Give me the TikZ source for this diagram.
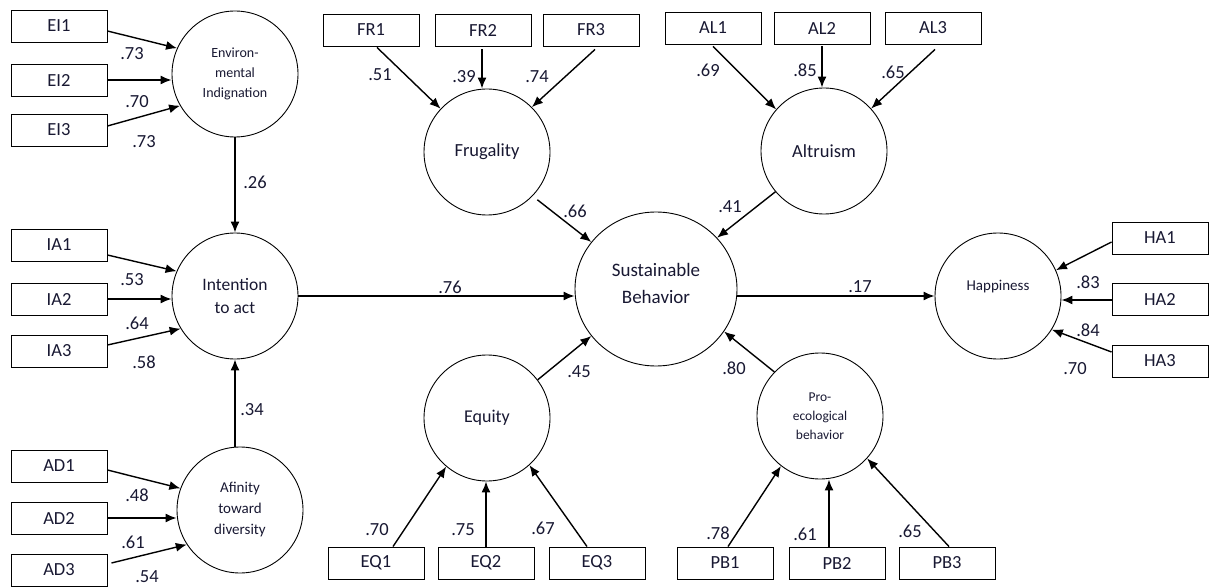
\documentclass[tikz,border=0pt]{standalone}
\usepackage{fontspec}
\setmainfont{Carlito}
\usetikzlibrary{arrows.meta,shapes.geometric}
\definecolor{ink}{RGB}{24,24,50}

\begin{document}
\begin{tikzpicture}[x=1pt,y=-1pt,
  every node/.style={text=ink},
  ind/.style={draw=black, line width=0.9pt, minimum width=96pt, minimum height=32pt, inner sep=0pt, font=\fontsize{18.5}{20}\selectfont},
  lat/.style={draw=black, line width=0.9pt, circle, minimum size=126pt, inner sep=0pt, align=center, font=\fontsize{17.5}{23}\selectfont},
  load/.style={-{Latex[length=11pt,width=9pt]}, line width=1.4pt},
  coef/.style={font=\fontsize{18.5}{20}\selectfont, inner sep=0pt}
]
\useasboundingbox (0,0) rectangle (1212,588);

% latent variables
\node[lat, font=\fontsize{14}{20}\selectfont] (EI) at (235,74) {Environ-\\mental\\Indignation};
\node[lat] (IA) at (235,296) {Intention\\to act};
\node[lat, font=\fontsize{15}{21}\selectfont] (AD) at (240,510) {Afinity\\toward\\diversity};
\node[lat, font=\fontsize{18.5}{23}\selectfont] (FR) at (487,152) {Frugality};
\node[lat, font=\fontsize{18.5}{23}\selectfont] (AL) at (824,151) {Altruism};
\node[lat, font=\fontsize{18}{23}\selectfont] (EQ) at (487,418) {Equity};
\node[lat, font=\fontsize{13.5}{19}\selectfont] (PB) at (820,416) {Pro-\\ecological\\behavior};
\node[lat, label={[font=\fontsize{15}{18}\selectfont, text=ink, yshift=9pt]center:Happiness}] (HA) at (998,296) {};
\node[draw=black, line width=0.9pt, ellipse, minimum width=162pt, minimum height=154pt, inner sep=0pt,
  label={[font=\fontsize{19}{27}\selectfont, text=ink, align=center, yshift=6pt]center:Sustainable\\Behavior}] (SB) at (656,289) {};

% indicators
\node[ind] (EI1) at (59,26) {EI1};
\node[ind] (EI2) at (59,80) {EI2};
\node[ind] (EI3) at (59,130) {EI3};
\node[ind] (IA1) at (59,245) {IA1};
\node[ind] (IA2) at (59,299) {IA2};
\node[ind] (IA3) at (59,351) {IA3};
\node[ind] (AD1) at (59,466) {AD1};
\node[ind] (AD2) at (59,518) {AD2};
\node[ind] (AD3) at (59,570) {AD3};
\node[ind] (FR1) at (371,30) {FR1};
\node[ind] (FR2) at (483,30) {FR2};
\node[ind] (FR3) at (591,30) {FR3};
\node[ind] (AL1) at (713,28) {AL1};
\node[ind] (AL2) at (822,28) {AL2};
\node[ind] (AL3) at (933,28) {AL3};
\node[ind] (HA1) at (1160,238) {HA1};
\node[ind] (HA2) at (1160,299) {HA2};
\node[ind] (HA3) at (1160,361) {HA3};
\node[ind] (EQ1) at (376,563) {EQ1};
\node[ind] (EQ2) at (486,563) {EQ2};
\node[ind] (EQ3) at (597,563) {EQ3};
\node[ind] (PB1) at (725,563) {PB1};
\node[ind] (PB2) at (837,563) {PB2};
\node[ind] (PB3) at (947,563) {PB3};

% measurement arrows
\draw[load] ([yshift=-5pt]EI1.east) -- (EI.156);
\draw[load] (EI2.east) -- (EI2.east -| EI.west);
\draw[load] ([yshift=4pt]EI3.east) -- (EI.210);
\draw[load] ([yshift=-10pt]IA1.east) -- (IA.157);
\draw[load] (IA2.east) -- (IA2.east -| IA.west);
\draw[load] ([yshift=6pt]IA3.east) -- (IA.211);
\draw[load] ([yshift=-4pt]AD1.east) -- (AD.160);
\draw[load] (AD2.east) -- (AD2.east -| AD.west);
\draw[load] ([xshift=4pt,yshift=7pt]AD3.east) -- (AD.213);
\draw[load] ([xshift=6pt,yshift=-1pt]FR1.south) -- (FR.137);
\draw[load] ([xshift=-1pt,yshift=-3pt]FR2.south) -- ([xshift=-1pt]FR2.south |- FR.north);
\draw[load] ([xshift=4pt,yshift=-3pt]FR3.south) -- (FR.45);
\draw[load] ([yshift=-2pt]AL1.south) -- (AL.139);
\draw[load] ([yshift=-2pt]AL2.south) -- (AL2.south |- AL.north);
\draw[load] ([xshift=2pt,yshift=-5pt]AL3.south) -- (AL.42);
\draw[load] ([yshift=-4pt]HA1.west) -- (HA.24);
\draw[load] ([yshift=-1pt]HA2.west) -- ([yshift=-1pt]HA2.west -| HA.east);
\draw[load] ([yshift=9pt]HA3.west) -- (HA.-32);
\draw[load] ([xshift=17pt]EQ1.north) -- (EQ.230);
\draw[load] (EQ2.north) -- (EQ2.north |- EQ.south);
\draw[load] ([xshift=-10pt]EQ3.north) -- (EQ.-48);
\draw[load] ([xshift=3pt]PB1.north) -- (PB.232);
\draw[load] ([xshift=-8pt]PB2.north) -- ([xshift=-8pt]PB2.north |- PB.south);
\draw[load] ([xshift=2pt]PB3.north) -- (PB.-42);

% structural paths
\draw[load] (EI.south) -- (IA.north);
\draw[load] (IA.south |- AD.north) -- (IA.south);
\draw[load] (IA.east) -- (IA.east -| SB.west);
\draw[load] (HA.west -| SB.east) -- (HA.west);
\draw[load, shorten <=6pt] (FR.-44) -- (SB.144);
\draw[load] (AL.220) -- (SB.40);
\draw[load] (EQ.37) -- (SB.216);
\draw[load] (PB.136) -- (SB.-32);

% coefficients
\node[coef] (cEI1) at (132,54) {.73};
\node[coef] (cEI2) at (137,102) {.70};
\node[coef] (cEI3) at (144,142) {.73};
\node[coef] (cEI) at (255,182) {.26};
\node[coef] (cIA1) at (132,280) {.53};
\node[coef] (cIA2) at (137,323) {.64};
\node[coef] (cIA3) at (144,362) {.58};
\node[coef] (cAD) at (252,410) {.34};
\node[coef] (cAD1) at (137,495) {.48};
\node[coef] (cAD2) at (133,542) {.61};
\node[coef] (cAD3) at (147,577) {.54};
\node[coef] (cFR1) at (380,75) {.51};
\node[coef] (cFR2) at (464,77) {.39};
\node[coef] (cFR3) at (537,77) {.74};
\node[coef] (cFR) at (575,211) {.66};
\node[coef] (cAL1) at (708,70) {.69};
\node[coef] (cAL2) at (805,70) {.85};
\node[coef] (cAL3) at (893,72) {.65};
\node[coef] (cAL) at (730,207) {.41};
\node[coef] (cIA) at (450,287) {.76};
\node[coef] (cHA) at (860,287) {.17};
\node[coef] (cHA1) at (1088,282) {.83};
\node[coef] (cHA2) at (1088,330) {.84};
\node[coef] (cHA3) at (1075,369) {.70};
\node[coef] (cEQ1) at (377,530) {.70};
\node[coef] (cEQ2) at (463,530) {.75};
\node[coef] (cEQ3) at (543,528) {.67};
\node[coef] (cEQ) at (579,372) {.45};
\node[coef] (cPB1) at (718,533) {.78};
\node[coef] (cPB2) at (805,534) {.61};
\node[coef] (cPB3) at (910,531) {.65};
\node[coef] (cPB) at (734,368) {.80};
\end{tikzpicture}
\end{document}
